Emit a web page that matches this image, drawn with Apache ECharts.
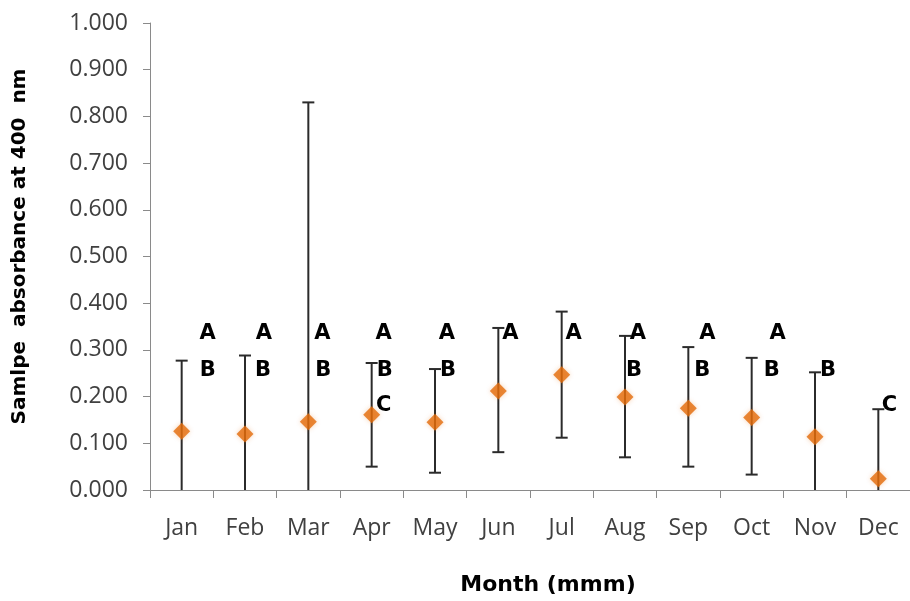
<!DOCTYPE html>
<html>
<head>
<meta charset="utf-8">
<script src="https://cdn.jsdelivr.net/npm/echarts@6/dist/echarts.min.js"></script>
<style>
html,body{margin:0;padding:0;background:#fff;}
#chart{width:910px;height:601px;}
</style>
</head>
<body>
<div id="chart"></div>
<script>
// ---- data ----
const months = ['Jan','Feb','Mar','Apr','May','Jun','Jul','Aug','Sep','Oct','Nov','Dec'];
const means  = [0.126,0.120,0.146,0.161,0.145,0.212,0.247,0.199,0.175,0.155,0.114,0.024];
const upper  = [0.277,0.288,0.830,0.272,0.259,0.347,0.382,0.330,0.306,0.283,0.252,0.173];
const lower  = [0.000,0.000,0.000,0.050,0.037,0.081,0.112,0.070,0.050,0.033,0.000,0.000];
const lettersA = ['A','A','A','A','A','A','A','A','A','A','',''];
const lettersB = ['B','B','B','B','B','','','B','B','B','B',''];
const lettersC = ['','','','C','','','','','','','','C'];
const yTickLabels = ['0.000','0.100','0.200','0.300','0.400','0.500','0.600','0.700','0.800','0.900','1.000'];

// ---- layout / style (not data) ----
const letterRows = {A:0.334, B:0.256, C:0.181};
const offA = [26,19,14,12,12,12,12,13,19,26,0,0];
const offB = [26,18,15,13,13,0,0,9,14,20,13,0];
const offC = [0,0,0,12,0,0,0,0,0,0,0,11];

const chart = echarts.init(document.getElementById('chart'), null, {renderer:'canvas'});
const axisColor = '#8a8a8a';
const tickFont = '"Open Sans"';
const titleFont = '"DejaVu Sans"';

const option = {
  animation: false,
  backgroundColor: '#ffffff',
  grid: {left: 150, right: -12, top: 23, bottom: 109, containLabel: false},
  xAxis: {
    type: 'category',
    data: months,
    boundaryGap: true,
    axisLine: {lineStyle: {color: axisColor, width: 1}},
    axisTick: {show: true, length: 8, lineStyle: {color: axisColor}},
    axisLabel: {color: '#404040', fontFamily: tickFont, fontSize: 23, margin: 27},
    splitLine: {show: false},
    name: 'Month (mmm)',
    nameLocation: 'middle',
    nameGap: 84,
    nameTextStyle: {color: '#000', fontFamily: titleFont, fontWeight: 'bold', fontSize: 22, padding: [0,0,0,36]}
  },
  yAxis: {
    type: 'value',
    min: 0, max: 1, interval: 0.1,
    axisLine: {show: true, lineStyle: {color: axisColor, width: 1}},
    axisTick: {show: true, length: 7, lineStyle: {color: axisColor}},
    axisLabel: {color: '#404040', fontFamily: tickFont, fontSize: 23, margin: 22,
      formatter: function (v) { return yTickLabels[Math.round(v * 10)]; }},
    splitLine: {show: false},
    name: 'Samlpe  absorbance at 400  nm',
    nameLocation: 'middle',
    nameGap: 120,
    nameTextStyle: {color: '#000', fontFamily: titleFont, fontWeight: 'bold', fontSize: 20, padding: [0,0,0,20]}
  },
  series: [
    {
      type: 'custom',
      name: 'error',
      z: 2,
      data: months.map((m, i) => [i, lower[i], upper[i]]),
      renderItem: function (params, api) {
        const x = api.value(0);
        const lo = api.coord([x, api.value(1)]);
        const hi = api.coord([x, api.value(2)]);
        const cap = 6;
        const style = {stroke: '#2b2b2b', lineWidth: 2};
        const children = [
          {type: 'line', shape: {x1: lo[0], y1: lo[1], x2: hi[0], y2: hi[1]}, style: style},
          {type: 'line', shape: {x1: hi[0] - cap, y1: hi[1], x2: hi[0] + cap, y2: hi[1]}, style: style}
        ];
        if (api.value(1) > 0) {
          children.push({type: 'line', shape: {x1: lo[0] - cap, y1: lo[1], x2: lo[0] + cap, y2: lo[1]}, style: style});
        }
        return {type: 'group', children: children};
      }
    },
    {
      type: 'scatter',
      name: 'mean',
      z: 3,
      symbol: 'diamond',
      symbolSize: 17,
      itemStyle: {color: '#E46C0A', shadowBlur: 5, shadowColor: 'rgba(228,108,10,0.35)'},
      data: means.map((v, i) => [i, v])
    },
    {
      type: 'custom',
      name: 'letters',
      z: 4,
      data: months.map((m, i) => [i]),
      renderItem: function (params, api) {
        const i = params.dataIndex;
        const children = [];
        const rows = [['A', lettersA, offA], ['B', lettersB, offB], ['C', lettersC, offC]];
        rows.forEach(function (r) {
          const txt = r[1][i];
          if (!txt) return;
          const p = api.coord([i, letterRows[r[0]]]);
          children.push({
            type: 'text',
            x: p[0] + r[2][i], y: p[1],
            style: {text: txt, fill: '#000', fontSize: 21, fontWeight: 'bold', fontFamily: 'DejaVu Sans',
                    align: 'center', verticalAlign: 'middle'}
          });
        });
        return {type: 'group', children: children};
      }
    }
  ]
};
chart.setOption(option);
</script>
</body>
</html>
